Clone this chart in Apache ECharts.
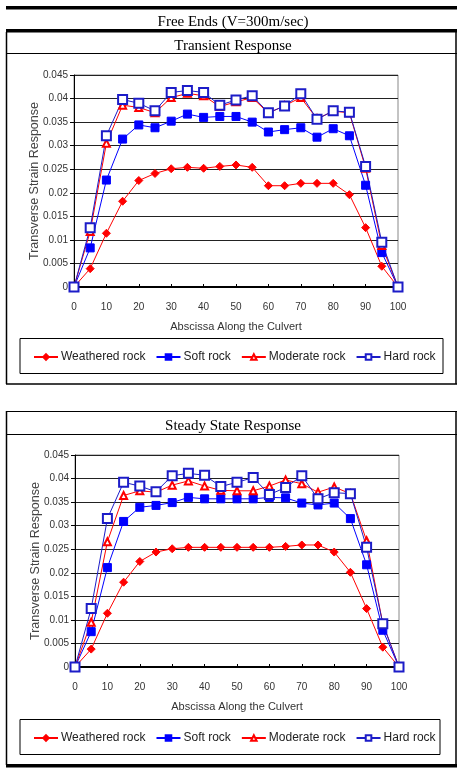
<!DOCTYPE html>
<html>
<head>
<meta charset="utf-8">
<script src="https://cdn.jsdelivr.net/npm/echarts@6/dist/echarts.min.js"></script>
<style>
  html, body { margin: 0; padding: 0; background: #fff; }
  #main { width: 466px; height: 778px; }
</style>
</head>
<body>
<div id="main"></div>
<script>
// abscissa positions
var abscissa = [0, 5, 10, 15, 20, 25, 30, 35, 40, 45, 50, 55, 60, 65, 70, 75, 80, 85, 90, 95, 100];
var rockNames = ['Weathered rock', 'Soft rock', 'Moderate rock', 'Hard rock'];
var yTicks = [0, 0.005, 0.01, 0.015, 0.02, 0.025, 0.03, 0.035, 0.04, 0.045];

// Transient response
var transWeathered = [0, 0.0039, 0.0114, 0.0182, 0.0226, 0.0241, 0.0251, 0.0254, 0.0252, 0.0256, 0.0259, 0.0254, 0.0215, 0.0215, 0.0220, 0.0220, 0.0220, 0.0196, 0.0126, 0.0044, 0];
var transSoft = [0, 0.0083, 0.0227, 0.0314, 0.0344, 0.0338, 0.0352, 0.0367, 0.0360, 0.0362, 0.0362, 0.0350, 0.0329, 0.0334, 0.0338, 0.0318, 0.0336, 0.0321, 0.0216, 0.0073, 0];
var transModerate = [0, 0.0118, 0.0305, 0.0386, 0.0381, 0.0370, 0.0402, 0.0411, 0.0406, 0.0383, 0.0393, 0.0402, 0.0369, 0.0385, 0.0402, 0.0357, 0.0373, 0.0370, 0.0252, 0.0088, 0];
var transHard = [0, 0.0126, 0.0321, 0.0398, 0.0390, 0.0374, 0.0413, 0.0417, 0.0413, 0.0386, 0.0397, 0.0406, 0.0370, 0.0384, 0.0410, 0.0356, 0.0374, 0.0371, 0.0256, 0.0095, 0];

// Steady state response
var steadyWeathered = [0, 0.0038, 0.0114, 0.0180, 0.0224, 0.0244, 0.0251, 0.0254, 0.0254, 0.0254, 0.0254, 0.0254, 0.0254, 0.0256, 0.0259, 0.0259, 0.0244, 0.0201, 0.0124, 0.0042, 0];
var steadySoft = [0, 0.0075, 0.0211, 0.0309, 0.0339, 0.0343, 0.0349, 0.0360, 0.0357, 0.0357, 0.0357, 0.0357, 0.0360, 0.0359, 0.0348, 0.0344, 0.0348, 0.0315, 0.0217, 0.0078, 0];
var steadyModerate = [0, 0.0095, 0.0266, 0.0364, 0.0374, 0.0371, 0.0386, 0.0395, 0.0384, 0.0375, 0.0374, 0.0374, 0.0384, 0.0397, 0.0389, 0.0371, 0.0382, 0.0368, 0.0268, 0.0092, 0];
var steadyHard = [0, 0.0124, 0.0315, 0.0392, 0.0384, 0.0372, 0.0406, 0.0411, 0.0407, 0.0383, 0.0392, 0.0402, 0.0366, 0.0381, 0.0406, 0.0357, 0.0370, 0.0368, 0.0254, 0.0092, 0];

var chart = echarts.init(document.getElementById('main'));

function pairs(vals) {
  return abscissa.map(function (x, i) { return [x, vals[i]]; });
}

// look of each rock type
var styles = [
  { color: '#ff0000', symbol: 'diamond', size: 8 },
  { color: '#0000ff', symbol: 'rect', size: 8 },
  { color: '#ff0000', symbol: 'emptyTriangle', size: 7 },
  { color: '#1c1cc8', symbol: 'emptyRect', size: 9 }
];

function makeSeries(sets, gi) {
  return sets.map(function (vals, k) {
    var s = styles[k];
    return {
      name: rockNames[k],
      type: 'line',
      xAxisIndex: gi,
      yAxisIndex: gi,
      data: pairs(vals),
      symbol: s.symbol,
      symbolSize: s.size,
      showAllSymbol: true,
      color: s.color,
      lineStyle: { width: 1, color: s.color },
      itemStyle: { color: s.color, borderColor: s.color, borderWidth: 1 },
      animation: false
    };
  });
}

var axisFont = { color: '#333', fontSize: 10, fontFamily: 'Liberation Sans' };

function xAx(gi) {
  return {
    gridIndex: gi, type: 'value', min: 0, max: 100, interval: 10,
    axisLine: { onZero: false, lineStyle: { color: '#000', width: 2 } },
    axisTick: { show: true, inside: true, length: 3, lineStyle: { color: '#000' } },
    axisLabel: Object.assign({ margin: 15 }, axisFont),
    splitLine: { show: false },
    name: 'Abscissa Along the Culvert', nameLocation: 'middle', nameGap: 34,
    nameTextStyle: { color: '#333', fontSize: 11, fontFamily: 'Liberation Sans' }
  };
}

function yAx(gi) {
  return {
    gridIndex: gi, type: 'value', min: 0, max: 0.045, interval: 0.005,
    axisLine: { show: true, lineStyle: { color: '#000', width: 1 } },
    axisTick: { show: true, length: 4, lineStyle: { color: '#000' } },
    axisLabel: Object.assign({ margin: 6, formatter: function (v) { return String(+v.toFixed(3)); } }, axisFont),
    splitLine: { show: true, lineStyle: { color: '#222', width: 1 } },
    name: 'Transverse Strain Response', nameLocation: 'middle', nameGap: 33,
    nameMoveOverlap: false,
    nameTextStyle: { color: '#444', fontSize: 12.5, fontFamily: 'Liberation Sans' }
  };
}

function legendAt(top) {
  return {
    data: rockNames, left: 28, top: top, itemGap: 10, width: 436,
    itemWidth: 24, itemHeight: 7,
    textStyle: { color: '#222', fontSize: 12, fontFamily: 'Liberation Sans', padding: [0, 0, 0, -2] }
  };
}

var serifFont = 'Liberation Serif';

var option = {
  backgroundColor: '#fff',
  animation: false,
  title: [
    { text: 'Free Ends (V=300m/sec)', left: 'center', top: 10, textStyle: { fontFamily: serifFont, fontSize: 15, fontWeight: 'normal', color: '#000' } },
    { text: 'Transient Response', left: 'center', top: 34, textStyle: { fontFamily: serifFont, fontSize: 15, fontWeight: 'normal', color: '#000' } },
    { text: 'Steady State Response', left: 'center', top: 414, textStyle: { fontFamily: serifFont, fontSize: 15, fontWeight: 'normal', color: '#000' } }
  ],
  grid: [
    { left: 74, top: 75, width: 324, height: 212, show: true, borderColor: '#888', borderWidth: 1 },
    { left: 75, top: 455, width: 324, height: 212, show: true, borderColor: '#888', borderWidth: 1 }
  ],
  xAxis: [xAx(0), xAx(1)],
  yAxis: [yAx(0), yAx(1)],
  legend: [legendAt(346), legendAt(727)],
  series: makeSeries([transWeathered, transSoft, transModerate, transHard], 0)
    .concat(makeSeries([steadyWeathered, steadySoft, steadyModerate, steadyHard], 1)),
  graphic: [
    // rules and panel frames
    { type: 'rect', shape: { x: 6, y: 6, width: 451, height: 3.5 }, style: { fill: '#000' }, silent: true },
    { type: 'rect', shape: { x: 6, y: 29, width: 451, height: 3.5 }, style: { fill: '#000' }, silent: true },
    { type: 'line', shape: { x1: 6.5, y1: 32, x2: 6.5, y2: 384 }, style: { stroke: '#000', lineWidth: 1.5 }, silent: true },
    { type: 'line', shape: { x1: 456, y1: 32, x2: 456, y2: 384 }, style: { stroke: '#000', lineWidth: 1.5 }, silent: true },
    { type: 'line', shape: { x1: 6, y1: 53.5, x2: 457, y2: 53.5 }, style: { stroke: '#000', lineWidth: 1 }, silent: true },
    { type: 'line', shape: { x1: 6, y1: 384, x2: 457, y2: 384 }, style: { stroke: '#000', lineWidth: 1.5 }, silent: true },
    { type: 'rect', shape: { x: 20, y: 338.5, width: 423, height: 35 }, style: { fill: 'none', stroke: '#000', lineWidth: 1 }, silent: true },

    { type: 'line', shape: { x1: 6, y1: 411.5, x2: 457, y2: 411.5 }, style: { stroke: '#000', lineWidth: 1 }, silent: true },
    { type: 'line', shape: { x1: 6.5, y1: 411, x2: 6.5, y2: 765 }, style: { stroke: '#000', lineWidth: 1.5 }, silent: true },
    { type: 'line', shape: { x1: 456, y1: 411, x2: 456, y2: 765 }, style: { stroke: '#000', lineWidth: 1.5 }, silent: true },
    { type: 'line', shape: { x1: 6, y1: 434.5, x2: 457, y2: 434.5 }, style: { stroke: '#000', lineWidth: 1 }, silent: true },
    { type: 'rect', shape: { x: 20, y: 719.5, width: 420, height: 35 }, style: { fill: 'none', stroke: '#000', lineWidth: 1 }, silent: true },
    { type: 'rect', shape: { x: 6, y: 764, width: 451, height: 3.5 }, style: { fill: '#000' }, silent: true }
  ]
};

chart.setOption(option);
</script>
</body>
</html>
